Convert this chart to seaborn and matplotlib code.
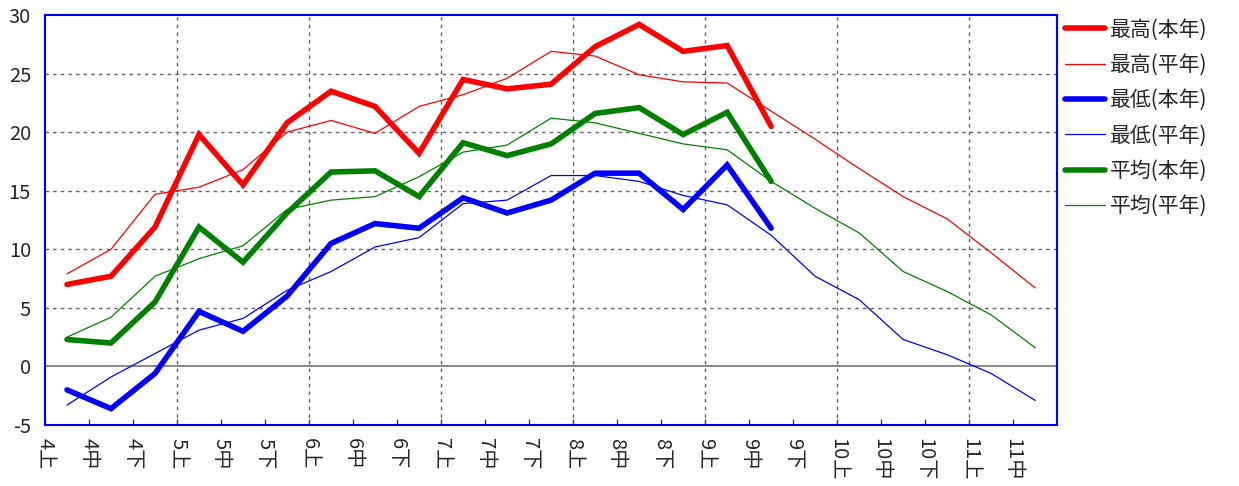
import numpy as np
import pandas as pd
import matplotlib
matplotlib.use("Agg")
import matplotlib.pyplot as plt
import seaborn as sns

# 旬別の気温（℃）: 本年は9月中旬まで
periods = ["4上", "4中", "4下", "5上", "5中", "5下", "6上", "6中", "6下",
           "7上", "7中", "7下", "8上", "8中", "8下", "9上", "9中", "9下",
           "10上", "10中", "10下", "11上", "11中"]

max_this = [7.0, 7.7, 11.9, 19.8, 15.5, 20.8, 23.5, 22.2, 18.2, 24.5, 23.7, 24.1,
            27.3, 29.2, 26.9, 27.4, 20.5]
max_norm = [7.9, 10.0, 14.7, 15.3, 16.8, 20.0, 21.0, 19.9, 22.2, 23.2, 24.6, 26.9,
            26.5, 24.9, 24.3, 24.2, 21.8, 19.4, 16.9, 14.5, 12.6, 9.7, 6.7]
min_this = [-2.0, -3.6, -0.6, 4.7, 3.0, 6.0, 10.5, 12.2, 11.8, 14.4, 13.1, 14.2,
            16.5, 16.5, 13.4, 17.2, 11.8]
min_norm = [-3.3, -0.9, 1.1, 3.1, 4.1, 6.5, 8.1, 10.2, 11.0, 13.9, 14.2, 16.3,
            16.3, 15.8, 14.6, 13.8, 11.2, 7.7, 5.7, 2.3, 1.0, -0.6, -2.9]
avg_this = [2.3, 2.0, 5.5, 11.9, 8.9, 13.1, 16.6, 16.7, 14.5, 19.1, 18.0, 19.0,
            21.6, 22.1, 19.8, 21.7, 15.8]
avg_norm = [2.5, 4.2, 7.7, 9.2, 10.3, 13.4, 14.2, 14.5, 16.2, 18.3, 18.9, 21.2,
            20.8, 19.9, 19.0, 18.5, 15.8, 13.5, 11.4, 8.1, 6.4, 4.4, 1.6]

series_names = ["最高(本年)", "最高(平年)", "最低(本年)", "最低(平年)", "平均(本年)", "平均(平年)"]
series_values = [max_this, max_norm, min_this, min_norm, avg_this, avg_norm]
series_colors = ["#ff0000", "#ff0000", "#0000ff", "#0000ff", "#008000", "#008000"]
series_widths = [4.0, 0.9, 4.0, 0.9, 4.0, 0.9]

y_ticks = [-5, 0, 5, 10, 15, 20, 25, 30]

sns.set_theme(style="white")
plt.rcParams["font.family"] = ["Noto Sans CJK JP", "DejaVu Sans"]

fig = plt.figure(figsize=(12.39, 4.86), dpi=100)
ax = fig.add_axes([0.0363, 0.1255, 0.8170, 0.8435])

n = len(periods)
rows = []
for name, vals in zip(series_names, series_values):
    padded = list(vals) + [np.nan] * (n - len(vals))
    for i, v in enumerate(padded):
        rows.append({"series": name, "pos": i + 0.5, "temp": v})
df = pd.DataFrame(rows)

# grid: dotted horizontal every 5 degrees, dotted vertical at each month start
for y in y_ticks[1:-1]:
    if y == 0:
        ax.axhline(0, color="#808080", lw=1.3, zorder=1)
    else:
        ax.axhline(y, color="#606060", lw=1.0, ls=(0, (2.5, 3)), zorder=1)
for i, p in enumerate(periods):
    if p.endswith("上") and i > 0:
        ax.axvline(i, color="#606060", lw=1.0, ls=(0, (2.5, 3)), zorder=1)

for name, color, lw in zip(series_names, series_colors, series_widths):
    sub = df[df["series"] == name].dropna()
    sns.lineplot(data=sub, x="pos", y="temp", ax=ax, color=color, linewidth=lw,
                 label=name, zorder=3, solid_joinstyle="miter" if lw > 2 else "round")

ax.set_xlim(0, n)
ax.set_ylim(-5, 30)
ax.set_xticks(range(n))
ax.set_xticklabels(periods, rotation=-90, fontsize=14.5, va="top", ha="center")
ax.set_yticks(y_ticks)
ax.set_yticklabels([str(t) for t in y_ticks], fontsize=14.5)
ax.set_xlabel("")
ax.set_ylabel("")
ax.tick_params(axis="x", direction="in", length=4, width=1, color="#404040", pad=9,
               bottom=True)
ax.tick_params(axis="y", length=0, pad=10)
for sp in ax.spines.values():
    sp.set_color("#0000ff")
    sp.set_linewidth(1.5)
    sp.set_visible(True)

ax.legend(loc="upper left", bbox_to_anchor=(0.8595, 0.962), bbox_transform=fig.transFigure,
          frameon=False, fontsize=15, handlelength=1.92, handletextpad=0.25,
          labelspacing=0.64, borderaxespad=0, borderpad=0)

fig.savefig("out.png", dpi=100)
